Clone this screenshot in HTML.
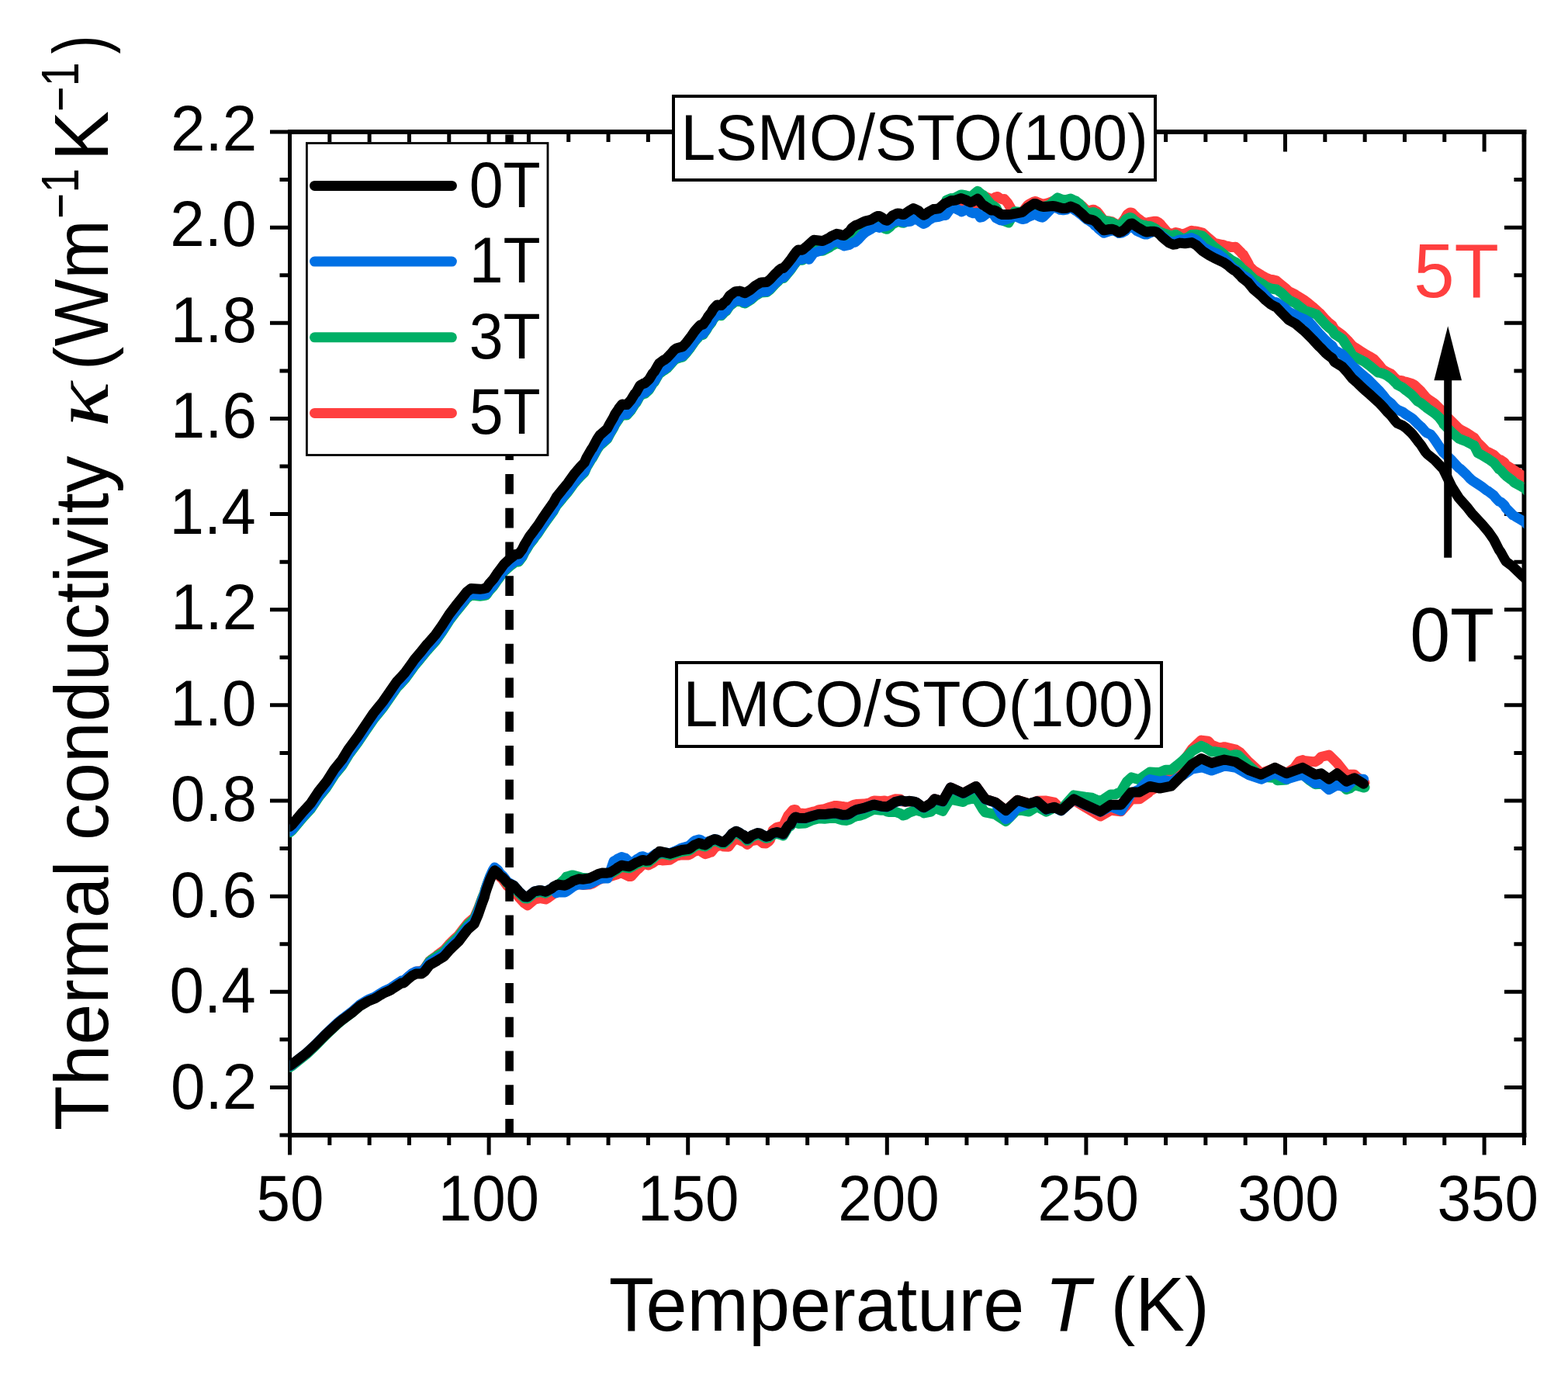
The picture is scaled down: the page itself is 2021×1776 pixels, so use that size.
<!DOCTYPE html>
<html><head><meta charset="utf-8"><title>Thermal conductivity</title>
<style>html,body{margin:0;padding:0;background:#fff;}svg{display:block;}</style>
</head><body>
<svg xmlns="http://www.w3.org/2000/svg" width="2021" height="1776" viewBox="0 0 2021 1776">
<rect width="2021" height="1776" fill="#fff"/>
<defs><clipPath id="pc"><rect x="373.5" y="170.02999999999975" width="1590.9199999999998" height="1292.9700000000003"/></clipPath></defs>
<path d="M373.50,1463.0 v25.5 M373.50,170.02999999999975 v25.5 M424.82,1463.0 v13 M424.82,170.02999999999975 v13 M476.14,1463.0 v13 M476.14,170.02999999999975 v13 M527.46,1463.0 v13 M527.46,170.02999999999975 v13 M578.78,1463.0 v13 M578.78,170.02999999999975 v13 M630.10,1463.0 v25.5 M630.10,170.02999999999975 v25.5 M681.42,1463.0 v13 M681.42,170.02999999999975 v13 M732.74,1463.0 v13 M732.74,170.02999999999975 v13 M784.06,1463.0 v13 M784.06,170.02999999999975 v13 M835.38,1463.0 v13 M835.38,170.02999999999975 v13 M886.70,1463.0 v25.5 M886.70,170.02999999999975 v25.5 M938.02,1463.0 v13 M938.02,170.02999999999975 v13 M989.34,1463.0 v13 M989.34,170.02999999999975 v13 M1040.66,1463.0 v13 M1040.66,170.02999999999975 v13 M1091.98,1463.0 v13 M1091.98,170.02999999999975 v13 M1143.30,1463.0 v25.5 M1143.30,170.02999999999975 v25.5 M1194.62,1463.0 v13 M1194.62,170.02999999999975 v13 M1245.94,1463.0 v13 M1245.94,170.02999999999975 v13 M1297.26,1463.0 v13 M1297.26,170.02999999999975 v13 M1348.58,1463.0 v13 M1348.58,170.02999999999975 v13 M1399.90,1463.0 v25.5 M1399.90,170.02999999999975 v25.5 M1451.22,1463.0 v13 M1451.22,170.02999999999975 v13 M1502.54,1463.0 v13 M1502.54,170.02999999999975 v13 M1553.86,1463.0 v13 M1553.86,170.02999999999975 v13 M1605.18,1463.0 v13 M1605.18,170.02999999999975 v13 M1656.50,1463.0 v25.5 M1656.50,170.02999999999975 v25.5 M1707.82,1463.0 v13 M1707.82,170.02999999999975 v13 M1759.14,1463.0 v13 M1759.14,170.02999999999975 v13 M1810.46,1463.0 v13 M1810.46,170.02999999999975 v13 M1861.78,1463.0 v13 M1861.78,170.02999999999975 v13 M1913.10,1463.0 v25.5 M1913.10,170.02999999999975 v25.5 M1964.42,1463.0 v13 M1964.42,170.02999999999975 v13 M373.5,1463.00 h-13 M1964.4199999999998,1463.00 h-13 M373.5,1401.43 h-25.5 M1964.4199999999998,1401.43 h-25.5 M373.5,1339.86 h-13 M1964.4199999999998,1339.86 h-13 M373.5,1278.29 h-25.5 M1964.4199999999998,1278.29 h-25.5 M373.5,1216.72 h-13 M1964.4199999999998,1216.72 h-13 M373.5,1155.15 h-25.5 M1964.4199999999998,1155.15 h-25.5 M373.5,1093.58 h-13 M1964.4199999999998,1093.58 h-13 M373.5,1032.01 h-25.5 M1964.4199999999998,1032.01 h-25.5 M373.5,970.44 h-13 M1964.4199999999998,970.44 h-13 M373.5,908.87 h-25.5 M1964.4199999999998,908.87 h-25.5 M373.5,847.30 h-13 M1964.4199999999998,847.30 h-13 M373.5,785.73 h-25.5 M1964.4199999999998,785.73 h-25.5 M373.5,724.16 h-13 M1964.4199999999998,724.16 h-13 M373.5,662.59 h-25.5 M1964.4199999999998,662.59 h-25.5 M373.5,601.02 h-13 M1964.4199999999998,601.02 h-13 M373.5,539.45 h-25.5 M1964.4199999999998,539.45 h-25.5 M373.5,477.88 h-13 M1964.4199999999998,477.88 h-13 M373.5,416.31 h-25.5 M1964.4199999999998,416.31 h-25.5 M373.5,354.74 h-13 M1964.4199999999998,354.74 h-13 M373.5,293.17 h-25.5 M1964.4199999999998,293.17 h-25.5 M373.5,231.60 h-13 M1964.4199999999998,231.60 h-13 M373.5,170.03 h-25.5 M1964.4199999999998,170.03 h-25.5" stroke="#000" stroke-width="5.0" fill="none"/>
<path d="M371.0,170.02999999999975 H1967.32 M371.0,1463.0 H1967.32" stroke="#000" stroke-width="5.9" fill="none"/>
<path d="M373.5,167.07999999999976 V1465.95" stroke="#000" stroke-width="5.0" fill="none"/>
<path d="M1964.4199999999998,167.07999999999976 V1465.95" stroke="#000" stroke-width="5.8" fill="none"/>
<g clip-path="url(#pc)" fill="none" stroke-width="13" stroke-linejoin="round" stroke-linecap="round">
<path d="M373.5,1072.0 L376.1,1069.7 L390.3,1052.8 L400.4,1041.9 L410.5,1026.8 L420.7,1014.1 L430.8,998.2 L440.9,985.8 L449.0,972.5 L461.2,956.0 L471.3,940.9 L481.5,926.0 L486.5,919.8 L490.8,914.6 L493.5,911.2 L502.5,898.3 L511.5,885.3 L516.0,880.7 L522.3,873.7 L531.0,861.6 L534.1,857.2 L541.3,848.8 L550.3,837.6 L552.1,835.8 L561.1,825.7 L570.1,812.9 L579.1,798.9 L588.1,787.1 L592.6,781.6 L599.6,772.9 L601.5,770.4 L607.2,766.1 L618.7,767.1 L622.5,766.7 L626.4,765.9 L628.3,763.6 L630.2,760.8 L635.9,754.4 L641.7,745.8 L643.6,743.4 L649.3,735.7 L650.0,735.0 L657.0,728.7 L663.7,723.5 L664.6,723.0 L668.5,722.6 L672.3,717.7 L673.3,716.2 L676.1,710.4 L678.0,707.7 L681.9,701.0 L683.8,698.4 L687.6,693.6 L689.5,690.8 L693.3,685.9 L697.2,680.0 L699.1,677.1 L704.8,669.0 L713.4,657.2 L714.4,655.2 L717.3,650.1 L724.0,642.2 L724.9,641.0 L731.6,633.2 L733.5,630.6 L740.0,621.8 L743.1,618.2 L748.1,612.7 L753.2,607.7 L755.2,603.1 L756.2,600.9 L762.3,590.6 L763.3,589.6 L769.4,578.5 L770.4,576.9 L773.4,572.6 L774.5,572.0 L782.6,564.9 L785.6,559.2 L790.7,550.5 L792.7,546.2 L796.7,540.4 L797.8,538.5 L801.8,533.4 L806.9,534.0 L807.9,534.1 L813.0,528.2 L818.0,520.2 L820.0,518.1 L824.1,510.6 L825.1,509.1 L829.2,506.7 L831.2,506.4 L836.3,501.7 L837.3,500.3 L841.3,493.5 L843.4,491.4 L848.4,482.5 L849.4,481.0 L855.5,476.4 L856.5,476.0 L859.6,473.8 L861.6,471.6 L864.6,468.4 L868.7,463.6 L871.7,461.4 L877.8,459.6 L879.8,459.2 L883.9,454.7 L890.0,446.9 L895.4,439.1 L897.2,436.9 L900.8,433.0 L902.6,431.2 L906.2,430.4 L908.0,427.6 L910.7,423.9 L912.5,420.6 L917.0,414.8 L918.8,411.2 L920.6,409.0 L924.2,405.4 L926.0,405.4 L929.6,405.8 L931.4,404.0 L933.2,401.9 L935.9,400.0 L940.5,393.2 L947.7,387.8 L953.1,387.3 L955.8,388.0 L958.5,389.5 L960.3,389.9 L967.5,385.5 L972.9,380.8 L973.8,380.1 L980.1,376.4 L981.0,376.0 L988.2,375.6 L989.1,375.0 L992.7,372.1 L998.1,366.1 L1002.6,361.8 L1003.5,360.8 L1007.1,357.9 L1009.8,357.6 L1014.3,352.5 L1019.7,345.8 L1023.3,340.6 L1026.9,335.8 L1028.7,334.1 L1034.1,334.2 L1035.0,333.7 L1039.5,329.7 L1040.0,329.4 L1048.9,321.3 L1059.6,322.3 L1060.5,322.2 L1068.5,318.1 L1071.2,316.0 L1078.3,312.5 L1082.7,313.3 L1084.5,314.0 L1088.1,314.5 L1095.2,308.7 L1097.9,304.8 L1102.3,301.3 L1106.8,299.5 L1111.2,297.0 L1115.7,295.0 L1120.2,293.9 L1122.8,293.2 L1129.1,289.3 L1130.8,288.4 L1133.5,288.3 L1136.2,289.6 L1140.6,293.1 L1143.3,293.7 L1146.9,291.0 L1150.4,287.2 L1156.7,284.0 L1160.2,284.3 L1162.9,285.3 L1164.7,285.5 L1170.9,281.1 L1177.2,277.1 L1178.0,277.2 L1184.3,280.4 L1186.1,282.4 L1190.5,285.5 L1193.2,284.2 L1196.7,281.2 L1203.0,277.6 L1204.8,277.5 L1210.0,276.9 L1217.1,270.6 L1218.9,270.1 L1226.0,266.4 L1227.8,266.5 L1231.4,266.1 L1238.5,263.6 L1239.4,263.7 L1245.6,266.1 L1247.4,267.2 L1251.0,268.7 L1253.6,268.0 L1259.9,264.2 L1260.8,264.9 L1262.0,256.0 L1266.1,254.4 L1267.9,252.6 L1272.3,254.5 L1274.1,255.3 L1277.7,256.9 L1279.5,256.6 L1281.2,255.3 L1283.9,253.8 L1285.7,253.5 L1289.3,255.9 L1291.9,256.7 L1294.6,256.6 L1299.1,262.0 L1303.5,269.6 L1305.0,272.0 L1308.0,272.9 L1315.0,275.0 L1316.9,273.8 L1318.7,272.0 L1324.0,265.1 L1325.0,264.0 L1325.8,263.6 L1332.9,259.8 L1334.7,259.5 L1339.1,261.4 L1341.8,262.4 L1345.4,262.8 L1348.9,262.2 L1350.0,262.0 L1357.0,259.3 L1359.6,258.6 L1365.0,258.4 L1366.7,258.5 L1370.3,258.2 L1372.1,257.5 L1374.8,258.0 L1376.5,257.7 L1380.0,257.3 L1384.0,260.0 L1385.3,260.1 L1387.1,260.5 L1388.9,261.6 L1391.6,263.0 L1395.1,265.8 L1397.8,268.5 L1401.4,271.7 L1402.3,271.9 L1408.5,270.2 L1410.3,270.5 L1413.8,272.6 L1415.6,274.6 L1422.7,284.2 L1423.6,284.4 L1429.9,285.0 L1433.4,285.9 L1437.0,288.0 L1438.8,289.1 L1442.3,290.6 L1445.9,287.2 L1450.4,281.1 L1451.2,279.4 L1453.0,276.4 L1456.6,273.9 L1458.4,274.2 L1459.3,274.5 L1461.9,277.3 L1465.5,280.6 L1469.1,283.3 L1471.7,285.3 L1474.4,286.6 L1478.0,287.3 L1482.4,286.1 L1486.9,285.3 L1490.4,285.3 L1494.0,287.3 L1495.8,288.9 L1497.6,291.3 L1501.1,295.3 L1504.7,299.5 L1506.5,300.5 L1511.8,301.1 L1515.4,299.5 L1518.9,300.3 L1520.7,301.0 L1522.5,302.2 L1526.9,301.2 L1527.8,300.9 L1535.9,297.3 L1540.3,298.2 L1541.2,298.0 L1542.1,298.1 L1550.0,300.0 L1558.1,307.3 L1565.2,313.2 L1575.3,315.6 L1576.4,315.6 L1580.4,317.3 L1582.4,317.3 L1586.5,318.4 L1590.5,318.5 L1592.6,318.3 L1598.6,324.3 L1600.7,326.8 L1602.7,328.4 L1606.8,335.7 L1608.8,339.2 L1610.8,343.6 L1615.9,348.7 L1625.0,354.0 L1626.0,354.8 L1631.1,357.7 L1637.2,360.2 L1641.2,360.8 L1645.3,361.9 L1651.3,366.9 L1656.4,371.0 L1659.5,374.0 L1661.5,375.6 L1669.6,379.6 L1671.6,381.1 L1681.8,387.4 L1686.8,391.2 L1691.9,395.4 L1700.0,402.8 L1702.0,404.4 L1708.1,411.4 L1712.2,415.4 L1717.2,419.6 L1720.0,424.5 L1730.0,431.8 L1730.1,431.8 L1736.9,438.6 L1742.5,445.1 L1745.0,447.0 L1748.2,448.9 L1753.8,452.6 L1759.0,456.0 L1759.4,456.3 L1765.1,459.4 L1770.7,462.8 L1771.0,463.0 L1778.6,471.6 L1782.0,476.0 L1783.1,476.6 L1787.6,479.5 L1793.0,482.0 L1793.2,482.2 L1797.7,486.9 L1801.1,489.7 L1807.9,490.9 L1810.0,492.0 L1812.4,492.3 L1819.1,494.2 L1821.4,495.3 L1824.0,497.0 L1828.1,501.1 L1831.5,504.3 L1837.1,511.2 L1838.0,512.0 L1839.4,513.5 L1848.4,519.7 L1849.5,520.5 L1850.0,521.0 L1859.7,530.7 L1860.8,532.6 L1861.0,533.0 L1871.0,543.0 L1871.3,543.4 L1880.3,552.4 L1882.5,553.7 L1889.3,557.2 L1890.4,557.9 L1897.2,562.5 L1899.4,563.7 L1900.0,564.0 L1905.0,571.0 L1907.3,573.1 L1909.5,575.2 L1916.0,582.0 L1918.5,582.7 L1925.3,586.2 L1927.6,588.6 L1928.0,589.0 L1932.1,592.4 L1934.3,592.9 L1938.8,595.9 L1939.0,596.0 L1941.1,599.2 L1947.8,603.4 L1950.0,605.0 L1950.1,605.1 L1961.3,612.6 L1965.0,615.0 L1968.0,618.5 L1970.0,619.0" stroke="#FF3F3F"/>
<path d="M373.5,1073.0 L376.1,1070.7 L390.3,1053.8 L400.4,1042.9 L410.5,1027.8 L420.7,1015.1 L430.8,999.2 L440.9,986.8 L449.0,973.5 L461.2,957.0 L471.3,941.9 L481.5,927.0 L486.5,920.8 L490.8,915.6 L493.5,912.2 L502.5,899.3 L511.5,886.3 L516.0,881.7 L522.3,874.7 L531.0,862.6 L534.1,858.2 L541.3,849.8 L550.3,838.6 L552.1,836.8 L561.1,826.7 L570.1,813.9 L579.1,799.9 L588.1,788.1 L592.6,782.6 L599.6,773.9 L601.5,771.4 L607.2,767.1 L618.7,768.2 L622.5,767.8 L626.4,767.1 L628.3,764.8 L630.2,761.9 L635.9,755.6 L641.7,747.1 L643.6,744.7 L649.3,737.0 L650.0,736.3 L657.0,729.9 L663.7,724.8 L664.6,724.3 L668.5,724.0 L672.3,719.1 L673.3,717.6 L676.1,711.8 L678.0,709.1 L681.9,702.4 L683.8,699.8 L687.6,695.1 L689.5,692.2 L693.3,687.4 L697.2,681.5 L699.1,678.6 L704.8,670.5 L713.4,658.6 L714.4,656.6 L717.3,651.5 L724.0,643.5 L724.9,642.3 L731.6,634.5 L733.5,631.9 L740.0,623.0 L743.1,619.4 L748.1,613.9 L753.2,608.8 L755.2,604.3 L756.2,602.0 L762.3,591.7 L763.3,590.7 L769.4,579.6 L770.4,578.0 L773.4,573.7 L774.5,573.0 L782.6,565.9 L785.6,560.2 L790.7,551.5 L792.7,547.2 L796.7,541.4 L797.8,539.5 L801.8,534.4 L806.9,535.0 L807.9,535.1 L813.0,529.2 L818.0,521.2 L820.0,519.1 L824.1,511.6 L825.1,510.1 L829.2,507.7 L831.2,507.4 L836.3,502.7 L837.3,501.3 L841.3,494.5 L843.4,492.4 L848.4,483.5 L849.4,482.0 L855.5,477.4 L856.5,477.0 L859.6,474.8 L861.6,472.6 L864.6,469.4 L868.7,464.6 L871.7,462.4 L877.8,460.6 L879.8,460.2 L883.9,455.7 L890.0,447.9 L895.4,440.1 L897.2,437.9 L900.8,434.0 L902.6,432.2 L906.2,431.4 L908.0,428.6 L910.7,424.9 L912.5,421.6 L917.0,415.8 L918.8,412.2 L920.6,410.0 L924.2,406.4 L926.0,406.4 L929.6,406.8 L931.4,405.0 L933.2,402.9 L935.9,401.0 L940.5,394.2 L947.7,388.8 L953.1,388.3 L955.8,389.0 L958.5,390.5 L960.3,390.9 L967.5,386.5 L972.9,381.8 L973.8,381.1 L980.1,377.4 L981.0,377.0 L988.2,376.6 L989.1,376.0 L992.7,373.1 L998.1,367.1 L1002.6,362.8 L1003.5,361.8 L1007.1,358.9 L1009.8,358.6 L1014.3,353.5 L1019.7,346.8 L1023.3,341.6 L1026.9,336.8 L1028.7,335.1 L1034.1,335.2 L1035.0,334.7 L1039.5,330.7 L1040.0,330.4 L1048.9,322.3 L1059.6,323.3 L1060.5,323.3 L1068.5,319.2 L1071.2,317.2 L1078.3,313.7 L1082.7,314.5 L1084.5,315.3 L1088.1,315.7 L1095.2,310.0 L1097.9,306.1 L1102.3,302.6 L1106.8,300.8 L1111.2,298.4 L1115.7,296.5 L1120.2,295.4 L1122.8,294.7 L1129.1,290.8 L1130.8,290.0 L1133.5,289.9 L1136.2,291.2 L1140.6,294.7 L1143.3,295.3 L1146.9,292.6 L1150.4,288.9 L1156.7,285.7 L1160.2,286.1 L1162.9,287.1 L1164.7,287.3 L1170.9,282.9 L1177.2,278.9 L1178.0,279.1 L1184.3,282.3 L1186.1,284.3 L1190.5,287.4 L1193.2,286.2 L1196.7,283.1 L1203.0,279.6 L1204.8,279.5 L1210.0,278.9 L1217.1,272.6 L1218.9,272.1 L1220.0,258.0 L1226.0,255.6 L1227.8,255.8 L1231.4,254.8 L1238.5,250.9 L1239.4,250.9 L1245.0,252.0 L1245.6,252.1 L1247.4,252.7 L1251.0,253.2 L1253.6,251.9 L1259.9,246.4 L1260.8,246.8 L1261.7,247.7 L1266.1,251.1 L1267.0,251.3 L1272.3,257.6 L1274.1,259.7 L1276.0,262.0 L1277.7,263.9 L1281.2,265.8 L1283.9,267.9 L1284.0,268.0 L1289.3,279.2 L1291.9,283.9 L1292.0,284.0 L1299.1,286.7 L1300.0,287.0 L1303.5,281.0 L1308.0,272.7 L1316.9,273.5 L1318.7,273.0 L1324.0,270.0 L1325.8,269.4 L1330.0,268.0 L1332.9,265.5 L1334.7,264.9 L1339.1,266.1 L1341.8,266.7 L1345.4,266.5 L1348.9,265.4 L1354.0,263.8 L1357.0,260.3 L1359.6,257.7 L1363.0,254.9 L1365.0,255.6 L1366.7,256.4 L1370.0,257.5 L1370.3,257.6 L1374.8,257.6 L1376.5,257.0 L1380.0,256.0 L1384.0,258.0 L1385.3,258.5 L1387.1,259.3 L1388.9,260.9 L1391.6,263.0 L1395.1,267.3 L1397.8,271.3 L1399.6,273.7 L1401.4,274.7 L1408.5,273.6 L1409.4,273.7 L1410.3,273.8 L1413.8,275.5 L1414.7,276.4 L1415.6,277.6 L1422.7,284.4 L1429.9,285.7 L1433.4,286.8 L1435.2,288.0 L1437.0,288.5 L1438.8,289.7 L1442.3,291.5 L1445.9,289.0 L1450.4,284.1 L1451.2,282.6 L1456.6,280.2 L1458.4,280.9 L1459.3,281.4 L1460.2,282.6 L1465.5,286.7 L1469.1,288.9 L1474.4,290.5 L1476.2,290.6 L1478.0,291.5 L1482.4,291.5 L1486.9,293.4 L1490.4,295.6 L1492.2,297.8 L1494.0,298.2 L1497.6,300.0 L1501.1,301.1 L1504.7,302.2 L1506.5,303.2 L1511.8,303.8 L1515.4,302.2 L1518.9,304.3 L1520.7,305.7 L1522.5,307.6 L1526.9,307.2 L1527.8,307.0 L1531.4,305.8 L1535.9,302.6 L1541.2,302.2 L1542.1,302.2 L1550.0,304.1 L1558.1,312.0 L1565.2,318.3 L1575.3,326.0 L1576.4,326.6 L1580.4,330.4 L1582.4,331.5 L1586.5,334.8 L1590.5,337.1 L1592.6,338.0 L1595.6,340.6 L1598.6,343.6 L1600.7,346.0 L1606.8,350.9 L1608.8,352.4 L1610.8,354.8 L1615.9,359.6 L1625.0,364.6 L1631.1,368.9 L1637.2,371.6 L1641.2,372.5 L1645.3,373.0 L1651.3,377.1 L1659.5,385.0 L1661.5,386.7 L1666.5,389.2 L1669.6,390.8 L1671.6,392.3 L1681.8,400.4 L1691.9,403.5 L1697.0,405.4 L1700.0,408.8 L1702.0,410.9 L1708.1,417.7 L1712.2,421.6 L1717.2,425.5 L1720.0,430.3 L1730.0,436.8 L1730.1,436.9 L1736.9,447.4 L1742.5,457.0 L1744.0,459.0 L1748.2,460.9 L1753.8,463.8 L1759.0,466.5 L1759.4,466.8 L1765.1,471.1 L1770.7,475.7 L1776.0,480.0 L1778.6,480.4 L1783.1,481.8 L1787.0,483.5 L1787.6,484.0 L1793.2,488.0 L1797.7,492.5 L1799.0,493.5 L1801.1,496.0 L1807.9,499.5 L1812.0,503.0 L1812.4,503.2 L1819.1,508.4 L1821.4,510.6 L1827.0,517.0 L1828.1,517.6 L1831.5,519.4 L1837.1,524.1 L1838.0,524.5 L1839.4,526.0 L1848.4,532.2 L1849.5,533.0 L1855.0,538.0 L1859.7,544.3 L1860.8,546.5 L1861.0,547.0 L1871.0,557.0 L1871.3,557.4 L1880.3,565.2 L1882.5,566.1 L1889.3,568.7 L1890.4,569.2 L1897.2,572.9 L1899.4,573.8 L1900.0,574.0 L1905.0,584.0 L1907.3,585.1 L1909.5,586.2 L1918.5,591.6 L1919.0,592.0 L1925.3,596.3 L1927.6,599.0 L1930.0,602.0 L1932.1,604.7 L1934.3,606.0 L1938.8,611.0 L1941.0,613.0 L1941.1,613.2 L1947.8,618.2 L1950.1,620.2 L1952.0,622.0 L1961.3,627.1 L1965.0,629.0 L1968.0,632.5 L1970.0,633.0" stroke="#00AF66"/>
<path d="M373.5,1071.5 L376.1,1069.2 L390.3,1052.3 L400.4,1041.4 L410.5,1026.3 L420.7,1013.6 L430.8,997.7 L440.9,985.3 L449.0,972.0 L461.2,955.5 L471.3,940.4 L481.5,925.5 L486.5,919.3 L490.8,914.1 L493.5,910.7 L502.5,897.8 L511.5,884.8 L516.0,880.2 L522.3,873.2 L531.0,861.1 L534.1,856.7 L541.3,848.3 L550.3,837.1 L552.1,835.3 L561.1,825.2 L570.1,812.4 L579.1,798.4 L588.1,786.6 L592.6,781.1 L599.6,772.4 L601.5,769.9 L607.2,765.6 L618.7,766.7 L622.5,766.3 L626.4,765.6 L628.3,763.3 L630.2,760.4 L635.9,754.1 L641.7,745.6 L643.6,743.2 L649.3,735.5 L650.0,734.8 L657.0,728.4 L663.7,723.3 L664.6,722.8 L668.5,722.5 L672.3,717.6 L673.3,716.1 L676.1,710.3 L678.0,707.6 L681.9,700.9 L683.8,698.3 L687.6,693.6 L689.5,690.7 L693.3,685.9 L697.2,680.0 L699.1,677.1 L704.8,669.0 L713.4,657.1 L714.4,655.1 L717.3,650.0 L724.0,642.0 L724.9,640.8 L731.6,633.0 L733.5,630.4 L740.0,621.5 L743.1,617.9 L748.1,612.4 L753.2,607.3 L755.2,602.8 L756.2,600.5 L762.3,590.2 L763.3,589.2 L769.4,578.1 L770.4,576.5 L773.4,572.2 L774.5,571.5 L782.6,564.5 L785.6,558.7 L790.7,550.0 L792.7,545.7 L796.7,539.9 L797.8,538.0 L801.8,532.9 L806.9,533.6 L807.9,533.6 L813.0,527.8 L818.0,519.7 L820.0,517.7 L824.1,510.2 L825.1,508.7 L829.2,506.3 L831.2,506.0 L836.3,501.3 L837.3,499.9 L841.3,493.1 L843.4,491.0 L848.4,482.2 L849.4,480.6 L855.5,476.1 L856.5,475.7 L859.6,473.4 L861.6,471.2 L864.6,468.1 L868.7,463.3 L871.7,461.1 L877.8,459.3 L879.8,458.9 L883.9,454.4 L890.0,446.6 L895.4,438.8 L897.2,436.6 L900.8,432.8 L902.6,430.9 L906.2,430.1 L908.0,427.4 L910.7,423.7 L912.5,420.3 L917.0,414.5 L918.8,411.0 L920.6,408.8 L924.2,405.1 L926.0,405.1 L929.6,405.6 L931.4,403.8 L933.2,401.6 L935.9,399.8 L940.5,393.0 L947.7,387.6 L953.1,387.1 L955.8,387.8 L958.5,389.3 L960.3,389.8 L967.5,385.4 L972.9,380.7 L973.8,380.0 L980.1,376.3 L981.0,375.9 L988.2,375.5 L989.1,374.9 L992.7,372.0 L998.1,366.0 L1002.6,361.8 L1003.5,360.7 L1007.1,357.9 L1009.8,357.5 L1014.3,352.5 L1019.7,345.7 L1023.3,340.5 L1026.9,335.8 L1028.7,334.0 L1034.1,334.2 L1035.0,333.6 L1039.5,329.7 L1040.0,329.4 L1042.7,334.3 L1048.9,325.9 L1059.6,322.4 L1060.5,321.9 L1068.5,316.6 L1071.2,314.1 L1075.6,311.2 L1078.3,310.9 L1082.7,313.3 L1084.5,314.7 L1086.3,315.6 L1088.1,316.9 L1095.2,315.3 L1097.9,313.0 L1102.3,312.1 L1106.8,307.9 L1111.2,303.1 L1113.9,300.5 L1115.7,299.1 L1120.2,296.6 L1122.8,295.1 L1124.6,293.4 L1129.1,292.5 L1130.8,292.4 L1133.5,293.4 L1136.2,292.3 L1140.6,291.9 L1142.4,290.7 L1143.3,291.1 L1146.9,289.1 L1150.4,286.1 L1155.8,284.5 L1156.7,284.1 L1160.2,284.7 L1162.9,285.9 L1164.7,286.2 L1170.9,285.5 L1173.6,285.3 L1177.2,282.2 L1178.0,282.3 L1184.3,284.1 L1186.1,285.8 L1187.0,286.2 L1190.5,288.5 L1193.2,287.2 L1196.7,284.0 L1200.3,281.8 L1203.0,280.3 L1204.8,280.1 L1210.0,279.3 L1217.1,277.0 L1218.9,277.5 L1226.0,267.5 L1227.8,265.9 L1231.4,268.6 L1238.5,272.1 L1239.4,273.0 L1245.6,270.0 L1247.4,269.5 L1251.0,273.5 L1253.6,274.7 L1254.5,274.8 L1259.9,274.4 L1260.8,275.5 L1263.4,280.2 L1266.1,279.7 L1272.3,274.8 L1274.1,274.2 L1277.7,273.0 L1281.2,277.1 L1283.9,281.0 L1289.3,283.8 L1291.9,284.2 L1294.6,283.7 L1299.1,282.2 L1303.5,280.6 L1308.0,278.4 L1316.9,282.3 L1318.7,282.5 L1321.3,281.9 L1324.0,280.2 L1325.8,279.4 L1332.9,276.4 L1334.7,276.6 L1339.1,278.7 L1341.8,279.9 L1343.6,280.2 L1345.4,278.8 L1348.9,275.2 L1357.0,266.8 L1359.6,267.3 L1365.0,269.5 L1366.7,270.4 L1370.3,270.8 L1374.8,270.0 L1376.5,269.1 L1379.2,267.7 L1380.0,267.5 L1385.3,270.6 L1386.3,271.3 L1387.1,271.6 L1388.9,273.1 L1395.1,277.7 L1397.8,280.3 L1401.4,283.3 L1402.3,283.4 L1408.5,287.7 L1410.3,289.3 L1411.2,290.5 L1413.8,292.2 L1415.6,294.4 L1422.7,300.3 L1429.9,297.8 L1433.4,297.1 L1437.0,297.6 L1438.8,298.6 L1440.0,299.0 L1442.3,300.6 L1445.9,300.1 L1450.4,297.7 L1451.2,296.7 L1456.6,291.9 L1458.4,291.9 L1459.3,292.0 L1465.5,297.6 L1469.1,299.2 L1474.4,301.7 L1476.2,302.1 L1478.0,302.1 L1482.4,300.1 L1486.9,298.5 L1490.4,298.6 L1494.0,300.8 L1497.6,304.2 L1501.1,306.6 L1506.5,310.6 L1511.8,312.3 L1515.4,311.3 L1518.9,309.6 L1520.7,308.9 L1526.9,308.7 L1527.8,308.5 L1531.4,307.6 L1535.9,306.6 L1540.3,308.5 L1541.2,309.0 L1542.1,309.7 L1549.2,316.5 L1550.0,318.3 L1558.1,322.5 L1565.2,325.6 L1570.3,327.4 L1575.3,331.2 L1576.4,331.9 L1582.4,337.6 L1586.5,342.7 L1590.5,346.6 L1592.6,347.3 L1598.6,352.0 L1600.7,354.1 L1606.8,357.7 L1608.8,358.8 L1610.8,360.8 L1615.9,366.9 L1625.0,374.0 L1626.0,375.0 L1631.1,380.7 L1637.2,386.4 L1641.2,389.2 L1645.3,389.7 L1651.3,393.9 L1656.4,397.3 L1659.5,400.3 L1661.5,402.0 L1669.6,406.0 L1671.6,407.5 L1681.8,411.8 L1686.8,414.6 L1691.9,420.2 L1700.0,429.8 L1702.0,431.7 L1708.1,438.2 L1712.2,441.9 L1717.2,446.1 L1720.0,451.0 L1730.1,456.9 L1736.9,464.3 L1742.5,471.2 L1748.0,476.0 L1748.2,476.2 L1753.8,481.1 L1759.4,486.0 L1762.0,488.0 L1765.1,491.0 L1770.7,496.6 L1778.6,504.6 L1783.1,510.0 L1787.0,515.0 L1787.6,515.6 L1793.2,520.1 L1797.7,525.1 L1801.0,528.0 L1801.1,528.1 L1807.9,530.9 L1812.0,534.0 L1812.4,534.2 L1819.1,538.4 L1821.4,540.3 L1828.0,547.0 L1828.1,547.1 L1831.5,549.9 L1837.1,556.3 L1839.4,558.1 L1844.0,560.0 L1848.4,565.6 L1849.5,567.1 L1859.7,582.3 L1860.0,583.0 L1860.8,583.5 L1871.0,593.0 L1871.3,593.5 L1880.3,603.1 L1882.5,604.5 L1889.3,610.9 L1890.4,612.0 L1894.0,616.0 L1897.2,618.8 L1899.4,620.3 L1905.0,624.0 L1907.3,625.5 L1909.5,626.9 L1916.0,632.0 L1918.5,633.3 L1925.3,638.5 L1927.6,641.5 L1928.0,642.0 L1932.1,646.2 L1934.3,647.0 L1938.8,650.9 L1939.0,651.0 L1941.1,654.9 L1947.8,661.6 L1950.0,664.0 L1950.1,664.0 L1961.3,670.5 L1965.0,672.5 L1968.0,675.7 L1970.0,676.0" stroke="#0070E4"/>
<path d="M373.5,1065.5 L376.1,1063.2 L390.3,1046.3 L400.4,1035.3 L410.5,1020.1 L420.7,1007.4 L430.8,991.5 L440.9,979.0 L449.0,965.7 L461.2,949.1 L471.3,934.0 L481.5,919.0 L486.5,912.8 L490.8,907.6 L493.5,904.2 L502.5,891.2 L511.5,878.2 L516.0,873.6 L522.3,866.6 L531.0,854.4 L534.1,850.0 L541.3,841.6 L550.3,830.3 L552.1,828.5 L561.1,818.3 L570.1,805.5 L579.1,791.5 L588.1,779.7 L592.6,774.2 L599.6,765.4 L601.5,762.9 L607.2,758.5 L618.7,759.3 L622.5,758.9 L626.4,758.0 L628.3,755.7 L630.2,752.8 L635.9,746.3 L641.7,737.7 L643.6,735.3 L649.3,727.5 L650.0,726.8 L657.0,720.3 L663.7,715.1 L664.6,714.5 L668.5,714.1 L672.3,709.1 L673.3,707.6 L676.1,701.8 L678.0,699.0 L681.9,692.3 L683.8,689.6 L687.6,684.8 L689.5,681.9 L693.3,677.0 L697.2,671.0 L699.1,668.1 L704.8,659.8 L713.4,647.6 L714.4,645.6 L717.3,640.3 L724.0,632.1 L724.9,630.9 L731.6,622.8 L733.5,620.2 L740.0,611.0 L743.1,607.3 L748.1,601.6 L753.2,596.3 L755.2,591.7 L756.2,589.4 L762.3,578.9 L763.3,577.8 L769.4,566.5 L770.4,564.9 L773.4,560.4 L774.5,559.7 L782.6,552.5 L785.6,546.7 L790.7,538.0 L792.7,533.7 L796.7,527.9 L797.8,526.0 L801.8,520.9 L806.9,521.6 L807.9,521.6 L813.0,515.8 L818.0,507.7 L820.0,505.7 L824.1,498.2 L825.1,496.7 L829.2,494.3 L831.2,494.0 L836.3,489.3 L837.3,487.9 L841.3,481.1 L843.4,479.0 L848.4,470.2 L849.4,468.6 L855.5,464.1 L856.5,463.7 L859.6,461.4 L861.6,459.2 L864.6,456.1 L868.7,451.3 L871.7,449.1 L877.8,447.3 L879.8,446.9 L883.9,442.4 L890.0,434.6 L895.4,426.8 L897.2,424.6 L900.8,420.8 L902.6,418.9 L906.2,418.1 L908.0,415.4 L910.7,411.7 L912.5,408.3 L917.0,402.5 L918.8,399.0 L920.6,396.8 L924.2,393.1 L926.0,393.1 L929.6,393.6 L931.4,391.8 L933.2,389.6 L935.9,387.8 L940.5,381.0 L947.7,375.6 L953.1,375.1 L955.8,375.8 L958.5,377.3 L960.3,377.8 L967.5,373.4 L972.9,368.7 L973.8,368.0 L980.1,364.3 L981.0,363.9 L988.2,363.5 L989.1,362.9 L992.7,360.0 L998.1,354.0 L1002.6,349.8 L1003.5,348.7 L1007.1,345.9 L1009.8,345.5 L1014.3,340.5 L1019.7,333.7 L1023.3,328.5 L1026.9,323.8 L1028.7,322.0 L1034.1,322.2 L1035.0,321.6 L1039.5,317.7 L1040.0,317.4 L1048.9,309.3 L1059.6,310.5 L1060.5,310.5 L1068.5,306.6 L1071.2,304.6 L1078.3,301.3 L1082.7,302.2 L1084.5,303.0 L1088.1,303.5 L1095.2,297.9 L1097.9,294.0 L1102.3,290.7 L1106.8,289.0 L1111.2,286.7 L1115.7,284.8 L1120.2,283.8 L1122.8,283.2 L1129.1,279.4 L1130.8,278.6 L1133.5,278.5 L1136.2,279.9 L1140.6,283.5 L1143.3,284.2 L1146.9,281.5 L1150.4,277.9 L1156.7,274.9 L1160.2,275.3 L1162.9,276.3 L1164.7,276.6 L1170.9,272.4 L1177.2,268.5 L1178.0,268.7 L1184.3,271.9 L1186.1,274.0 L1190.5,277.2 L1193.2,276.0 L1196.7,273.1 L1203.0,269.6 L1204.8,269.5 L1210.0,268.9 L1217.1,262.6 L1218.9,262.1 L1226.0,258.4 L1227.8,258.5 L1231.4,258.1 L1238.5,255.6 L1239.4,255.7 L1245.6,258.1 L1247.4,259.2 L1251.0,260.7 L1253.6,260.0 L1259.9,256.2 L1260.8,256.9 L1266.1,263.5 L1272.3,267.4 L1274.1,268.6 L1277.7,270.9 L1281.2,271.1 L1283.9,271.9 L1289.3,275.6 L1291.9,276.5 L1299.1,276.4 L1303.5,276.2 L1308.0,275.4 L1316.9,273.7 L1318.7,272.6 L1324.0,268.1 L1325.8,267.0 L1332.9,262.5 L1334.7,262.4 L1339.1,264.6 L1341.8,265.9 L1345.4,266.5 L1348.9,266.2 L1357.0,265.6 L1359.6,265.7 L1365.0,267.2 L1366.7,267.8 L1370.3,268.6 L1374.8,268.2 L1376.5,267.5 L1380.0,266.1 L1385.3,268.2 L1387.1,269.1 L1388.9,270.8 L1395.1,275.9 L1397.8,278.7 L1401.4,282.0 L1408.5,283.6 L1410.3,284.4 L1413.8,287.3 L1415.6,289.8 L1422.7,296.8 L1429.9,295.5 L1433.4,295.3 L1437.0,296.4 L1438.8,297.6 L1442.3,299.5 L1445.9,298.3 L1450.4,295.2 L1451.2,294.0 L1456.6,288.4 L1458.4,288.0 L1459.3,288.0 L1465.5,292.5 L1469.1,294.6 L1474.4,297.8 L1478.0,299.0 L1482.4,298.3 L1486.9,298.2 L1490.4,298.8 L1494.0,301.4 L1497.6,305.2 L1501.1,308.2 L1506.5,312.8 L1511.8,315.2 L1515.4,314.8 L1518.9,313.5 L1520.7,313.1 L1526.9,313.7 L1527.8,313.7 L1535.9,312.6 L1541.2,315.4 L1542.1,316.0 L1550.0,323.5 L1558.1,328.7 L1565.2,332.6 L1575.3,337.4 L1576.4,337.8 L1582.4,341.7 L1586.5,345.5 L1590.5,348.3 L1592.6,349.4 L1598.6,355.4 L1600.7,357.9 L1606.8,362.8 L1608.8,364.3 L1615.9,373.1 L1625.0,380.7 L1631.1,386.8 L1637.2,391.8 L1641.2,394.1 L1645.3,396.1 L1651.3,402.5 L1659.5,410.8 L1661.5,412.6 L1669.6,417.1 L1671.6,418.7 L1681.8,427.4 L1691.9,437.5 L1700.0,446.2 L1702.0,448.1 L1708.1,454.5 L1712.2,458.1 L1717.2,461.8 L1720.0,466.4 L1730.1,472.6 L1736.9,480.2 L1742.5,487.3 L1748.2,492.4 L1753.8,497.7 L1759.4,503.0 L1765.1,507.9 L1770.7,513.0 L1778.6,520.2 L1783.1,525.0 L1787.6,530.4 L1793.2,536.0 L1797.7,541.8 L1801.1,545.5 L1807.9,548.4 L1812.4,551.7 L1819.1,558.0 L1821.4,560.6 L1828.1,569.3 L1831.5,573.5 L1837.1,582.2 L1839.4,584.9 L1848.4,592.3 L1849.5,593.2 L1859.7,603.9 L1860.8,605.8 L1871.3,627.5 L1880.3,641.8 L1882.5,644.3 L1889.3,651.9 L1890.4,653.1 L1897.2,661.8 L1899.4,664.2 L1907.3,672.6 L1909.5,674.9 L1918.5,685.5 L1925.3,695.2 L1927.6,699.7 L1932.1,708.6 L1934.3,711.6 L1938.8,719.8 L1941.1,723.6 L1947.8,728.6 L1950.1,730.5 L1961.3,741.2 L1968.0,747.5" stroke="#000"/>
<path d="M373.5,1375.0 L375.7,1373.6 L384.4,1366.6 L393.9,1359.1 L394.9,1358.2 L406.4,1347.4 L415.9,1337.6 L417.8,1335.6 L423.6,1329.9 L429.3,1324.6 L435.1,1319.1 L441.8,1313.5 L444.6,1311.4 L454.2,1304.0 L463.8,1295.6 L473.3,1289.8 L475.3,1288.8 L482.9,1285.5 L484.8,1284.4 L490.6,1280.7 L494.4,1278.3 L502.1,1274.7 L504.0,1273.7 L511.6,1268.5 L517.4,1264.7 L520.0,1264.4 L521.2,1263.8 L526.1,1259.1 L530.1,1255.8 L531.2,1254.8 L536.2,1252.2 L543.3,1251.5 L547.4,1247.8 L553.5,1238.8 L555.5,1237.1 L562.6,1232.0 L563.6,1231.0 L570.7,1225.7 L572.7,1224.2 L578.8,1217.2 L584.9,1211.1 L591.0,1205.5 L597.0,1197.5 L603.1,1189.7 L606.2,1187.1 L611.2,1182.8 L616.3,1171.5 L621.4,1158.1 L624.4,1151.1 L625.4,1147.2 L627.5,1141.2 L631.5,1131.2 L635.6,1123.4 L637.6,1121.0 L641.6,1125.4 L644.7,1130.3 L647.7,1133.2 L650.8,1137.3 L653.8,1141.7 L661.9,1147.3 L668.0,1155.3 L669.0,1156.6 L676.1,1164.2 L680.0,1166.8 L688.9,1159.3 L696.0,1157.6 L697.8,1157.8 L703.2,1159.0 L706.7,1157.0 L711.2,1153.8 L713.8,1151.0 L719.2,1147.4 L724.5,1147.3 L728.1,1147.2 L730.8,1145.7 L733.4,1143.7 L737.0,1142.0 L738.8,1140.9 L745.9,1139.3 L751.3,1140.4 L759.3,1140.1 L760.2,1139.9 L764.6,1138.3 L767.3,1136.6 L770.8,1134.3 L776.2,1132.0 L782.4,1131.1 L786.9,1129.4 L794.9,1127.1 L795.8,1126.4 L801.1,1124.9 L804.7,1126.7 L810.9,1129.6 L813.6,1129.4 L820.7,1121.4 L822.5,1120.1 L827.8,1114.8 L829.6,1113.9 L831.4,1113.4 L833.2,1114.3 L835.9,1115.0 L840.3,1112.8 L846.5,1108.7 L849.2,1108.6 L850.0,1107.1 L853.7,1108.9 L863.4,1108.2 L872.0,1103.0 L876.7,1102.1 L878.5,1101.8 L887.4,1101.9 L890.1,1100.6 L894.5,1097.6 L896.3,1097.1 L900.8,1095.7 L903.4,1096.5 L905.2,1098.3 L908.8,1100.7 L912.3,1099.8 L915.0,1098.3 L916.8,1098.3 L921.2,1092.6 L923.9,1090.9 L930.2,1088.5 L932.8,1091.1 L939.1,1091.2 L943.5,1085.1 L948.9,1081.2 L952.4,1082.3 L956.9,1084.4 L958.7,1084.5 L963.1,1088.3 L964.0,1087.7 L965.8,1085.8 L969.3,1083.7 L976.5,1082.4 L979.1,1083.3 L983.6,1086.7 L987.2,1086.9 L990.7,1084.4 L992.5,1082.3 L996.1,1070.3 L1001.4,1066.3 L1006.8,1065.0 L1009.4,1064.7 L1015.7,1051.3 L1019.2,1047.2 L1022.0,1043.8 L1024.6,1043.4 L1025.5,1043.8 L1028.1,1047.2 L1028.9,1047.6 L1037.8,1048.7 L1046.7,1046.5 L1051.2,1045.7 L1055.6,1043.6 L1062.7,1042.6 L1069.0,1040.5 L1075.2,1038.6 L1077.9,1038.4 L1084.1,1039.3 L1085.9,1039.5 L1091.3,1040.5 L1094.8,1039.9 L1100.2,1037.4 L1103.7,1036.6 L1113.5,1036.1 L1120.6,1035.0 L1125.1,1032.5 L1126.9,1032.0 L1135.8,1032.5 L1140.2,1031.9 L1142.9,1032.8 L1146.5,1032.4 L1153.6,1029.8 L1160.0,1030.0 L1160.7,1032.8 L1162.5,1032.8 L1167.0,1033.7 L1171.4,1033.0 L1178.5,1033.7 L1181.2,1034.5 L1189.2,1040.4 L1191.0,1040.9 L1200.0,1035.2 L1204.6,1029.8 L1215.0,1032.7 L1225.2,1014.9 L1241.6,1022.3 L1257.9,1013.4 L1269.8,1029.8 L1283.1,1034.2 L1296.5,1044.6 L1311.3,1031.2 L1326.2,1035.7 L1330.0,1040.0 L1336.6,1032.2 L1348.4,1032.0 L1358.8,1034.2 L1367.7,1042.9 L1370.0,1042.0 L1384.1,1031.2 L1398.9,1040.5 L1418.2,1052.0 L1431.6,1044.4 L1444.9,1045.7 L1450.0,1040.0 L1458.3,1029.9 L1468.7,1029.8 L1480.0,1022.0 L1482.0,1019.4 L1494.8,1012.7 L1502.3,1005.7 L1509.7,1001.9 L1524.5,982.4 L1536.4,965.2 L1548.3,954.1 L1557.2,955.2 L1561.6,960.0 L1572.0,964.1 L1578.0,962.7 L1592.8,966.1 L1598.7,970.0 L1609.1,981.6 L1612.0,984.0 L1625.0,996.0 L1625.5,996.3 L1643.0,990.0 L1643.3,989.8 L1658.0,996.5 L1658.1,996.5 L1668.0,990.0 L1674.5,981.0 L1678.9,979.6 L1680.4,980.5 L1695.2,981.9 L1699.7,979.0 L1702.7,975.5 L1713.0,973.0 L1723.4,983.4 L1735.3,998.3 L1745.7,998.2 L1747.2,999.8 L1757.6,1008.4 L1759.0,1008.7" stroke="#FF3F3F"/>
<path d="M373.5,1375.5 L375.7,1374.1 L384.4,1367.2 L393.9,1359.7 L394.9,1358.8 L406.4,1348.0 L415.9,1338.2 L417.8,1336.2 L423.6,1330.6 L429.3,1325.2 L435.1,1319.8 L441.8,1314.2 L444.6,1312.2 L454.2,1304.8 L463.8,1296.4 L473.3,1290.6 L475.3,1289.6 L482.9,1286.3 L484.8,1285.2 L490.6,1281.5 L494.4,1279.2 L502.1,1275.6 L504.0,1274.6 L511.6,1269.4 L517.4,1265.6 L520.0,1265.3 L521.2,1264.8 L526.1,1260.1 L530.1,1256.8 L531.2,1255.8 L536.2,1253.2 L543.3,1252.4 L547.4,1248.6 L553.5,1239.3 L555.5,1237.6 L562.6,1232.8 L563.6,1232.0 L570.7,1227.7 L572.7,1226.2 L578.8,1219.2 L584.9,1213.1 L591.0,1207.5 L597.0,1199.5 L603.1,1191.7 L606.2,1189.1 L611.2,1184.8 L616.3,1173.0 L621.4,1158.3 L624.4,1151.0 L625.4,1147.0 L627.5,1140.7 L631.5,1130.2 L635.6,1122.0 L637.6,1119.3 L641.6,1123.2 L644.7,1127.8 L647.7,1130.5 L650.8,1134.2 L653.8,1138.4 L661.9,1143.1 L668.0,1150.1 L669.0,1151.3 L676.1,1157.8 L680.0,1158.0 L688.9,1150.8 L696.0,1149.5 L697.8,1149.7 L703.2,1151.2 L705.0,1150.0 L711.2,1146.0 L713.8,1143.3 L719.2,1140.0 L720.0,1140.0 L724.5,1136.0 L728.1,1132.7 L730.0,1130.0 L730.8,1129.9 L737.0,1128.0 L738.8,1127.9 L745.9,1129.9 L746.0,1130.0 L751.3,1131.6 L759.3,1132.1 L760.0,1132.0 L760.2,1133.7 L767.3,1130.3 L770.8,1128.6 L776.2,1127.1 L782.4,1127.2 L786.9,1126.3 L794.9,1121.4 L795.8,1120.4 L801.1,1117.2 L804.7,1117.8 L810.9,1118.8 L813.6,1117.6 L820.7,1113.4 L822.5,1112.9 L827.8,1110.4 L829.6,1110.5 L833.2,1111.3 L835.9,1111.1 L840.3,1107.7 L846.5,1101.9 L849.2,1101.0 L850.0,1099.2 L863.4,1102.2 L876.7,1098.0 L878.5,1097.5 L887.4,1096.4 L890.1,1094.8 L894.5,1091.3 L896.3,1090.6 L900.8,1088.6 L903.4,1089.1 L905.2,1090.2 L908.8,1091.0 L912.3,1088.8 L915.0,1086.1 L921.2,1083.5 L923.9,1084.1 L930.2,1087.2 L932.8,1087.5 L939.1,1082.0 L943.5,1076.4 L948.9,1073.2 L952.4,1074.8 L956.9,1077.9 L958.7,1078.5 L963.1,1083.3 L964.0,1083.0 L969.3,1078.5 L976.5,1075.6 L979.1,1075.9 L983.6,1078.4 L987.2,1080.3 L990.7,1079.6 L996.1,1075.8 L1001.4,1074.5 L1006.8,1075.9 L1009.4,1077.0 L1015.7,1066.7 L1019.2,1064.3 L1022.0,1058.3 L1024.6,1055.4 L1025.5,1055.0 L1028.9,1056.2 L1029.0,1061.6 L1037.8,1061.0 L1046.7,1057.1 L1047.0,1057.0 L1055.6,1054.8 L1062.7,1055.3 L1069.0,1054.5 L1075.2,1054.3 L1077.9,1054.6 L1084.1,1056.6 L1085.9,1057.1 L1091.3,1057.4 L1094.8,1056.3 L1100.2,1053.2 L1103.7,1051.9 L1109.0,1051.0 L1113.5,1049.3 L1125.1,1043.7 L1126.9,1043.3 L1135.8,1044.3 L1140.0,1044.0 L1142.9,1045.9 L1146.5,1046.6 L1153.6,1046.2 L1160.7,1048.7 L1162.5,1049.7 L1164.0,1051.0 L1167.0,1050.2 L1171.4,1047.4 L1178.5,1044.8 L1181.2,1044.3 L1189.0,1046.4 L1189.2,1046.6 L1191.0,1047.9 L1200.0,1046.1 L1204.6,1041.3 L1215.0,1045.3 L1225.2,1028.7 L1229.7,1031.2 L1241.6,1033.5 L1244.5,1031.2 L1257.9,1028.1 L1266.8,1043.1 L1269.8,1046.9 L1283.1,1049.7 L1296.5,1058.5 L1311.3,1043.4 L1326.2,1046.1 L1336.6,1039.6 L1348.4,1046.1 L1358.8,1040.9 L1367.7,1043.3 L1384.1,1024.9 L1385.5,1025.3 L1398.9,1027.3 L1407.8,1028.3 L1418.2,1033.0 L1431.6,1023.9 L1437.5,1023.8 L1444.9,1020.2 L1452.3,1007.5 L1458.3,1001.9 L1467.2,1004.5 L1468.7,1004.3 L1482.0,995.0 L1489.4,995.6 L1494.8,995.5 L1502.3,992.3 L1509.7,992.3 L1517.1,986.4 L1524.5,980.2 L1532.0,973.0 L1536.4,968.2 L1548.3,961.3 L1554.2,964.1 L1561.6,968.9 L1566.1,968.6 L1578.0,970.7 L1583.9,974.5 L1592.8,972.4 L1595.8,973.0 L1609.1,986.4 L1625.5,1001.1 L1628.4,1001.2 L1643.3,1002.5 L1646.2,1005.7 L1658.1,1005.0 L1665.5,998.3 L1678.9,997.9 L1687.8,1005.7 L1695.2,1010.7 L1702.7,1010.2 L1713.0,1013.6 L1717.5,1008.7 L1723.4,1005.3 L1735.3,1017.4 L1739.8,1016.1 L1745.7,1011.6 L1757.6,1015.1 L1759.0,1014.6" stroke="#00AF66"/>
<path d="M373.5,1374.0 L375.7,1372.6 L384.4,1365.7 L393.9,1358.2 L394.9,1357.3 L406.4,1346.5 L415.9,1336.7 L417.8,1334.7 L423.6,1329.1 L429.3,1323.8 L435.1,1318.3 L441.8,1312.7 L444.6,1310.7 L454.2,1303.3 L463.8,1294.9 L473.3,1289.1 L475.3,1288.1 L482.9,1284.9 L484.8,1283.7 L490.6,1280.0 L494.4,1277.7 L502.1,1274.2 L504.0,1273.1 L511.6,1267.9 L517.4,1264.1 L520.0,1263.9 L521.2,1263.3 L526.1,1258.8 L530.1,1255.5 L531.2,1254.6 L536.2,1252.1 L543.3,1252.1 L547.4,1249.0 L553.5,1241.0 L555.5,1239.7 L562.6,1235.8 L563.6,1235.0 L570.7,1230.7 L572.7,1229.2 L578.8,1222.2 L584.9,1216.1 L591.0,1210.5 L597.0,1202.5 L603.1,1194.6 L606.2,1192.0 L611.2,1187.5 L616.3,1175.6 L621.4,1160.5 L624.4,1152.5 L625.4,1148.3 L627.5,1141.5 L631.5,1130.2 L635.6,1121.0 L637.6,1117.9 L641.6,1121.2 L644.7,1125.8 L647.7,1128.5 L650.8,1132.2 L653.8,1136.4 L661.9,1141.1 L668.0,1148.1 L669.0,1149.3 L676.1,1155.8 L680.0,1156.0 L688.9,1148.9 L696.0,1147.5 L697.8,1147.7 L703.2,1149.3 L711.2,1145.0 L713.8,1142.6 L717.0,1151.0 L719.2,1149.7 L724.5,1150.0 L727.0,1150.0 L728.1,1150.0 L730.8,1148.6 L737.0,1144.1 L738.8,1142.6 L742.0,1141.0 L745.9,1139.7 L751.3,1140.3 L759.3,1139.2 L760.0,1139.0 L760.2,1138.9 L767.3,1135.5 L770.8,1133.7 L776.2,1132.1 L782.4,1132.1 L783.0,1132.0 L786.9,1122.1 L791.0,1110.0 L794.9,1108.0 L795.8,1107.1 L798.0,1106.0 L801.1,1104.5 L804.7,1105.6 L806.0,1106.0 L810.9,1110.7 L813.6,1111.7 L815.0,1112.0 L820.7,1107.5 L822.5,1106.7 L826.6,1104.0 L827.8,1103.7 L829.6,1104.1 L833.2,1105.7 L835.0,1106.0 L835.9,1106.2 L840.3,1103.9 L846.5,1099.7 L849.2,1099.5 L850.0,1098.0 L863.4,1099.7 L870.0,1097.0 L876.7,1093.8 L878.5,1093.0 L887.4,1090.4 L890.1,1088.4 L894.5,1084.2 L896.0,1083.3 L896.3,1083.2 L900.8,1082.0 L903.4,1082.8 L905.2,1084.2 L908.8,1085.6 L910.0,1085.0 L912.3,1086.9 L915.0,1084.2 L921.2,1081.6 L923.9,1082.2 L930.2,1085.3 L932.8,1085.6 L939.1,1080.1 L943.5,1074.5 L948.9,1071.3 L952.4,1072.9 L956.9,1076.1 L958.7,1076.6 L963.1,1081.5 L964.0,1081.1 L969.3,1076.7 L976.5,1073.8 L979.1,1074.1 L983.6,1076.5 L987.2,1078.5 L990.7,1077.7 L996.1,1074.0 L1001.4,1072.7 L1006.8,1074.1 L1009.4,1075.1 L1015.7,1064.8 L1019.2,1062.5 L1022.0,1056.5 L1024.6,1053.6 L1025.5,1053.2 L1028.9,1054.4 L1037.8,1054.7 L1046.7,1051.8 L1055.6,1049.4 L1062.7,1049.8 L1069.0,1048.9 L1075.2,1048.3 L1077.9,1048.4 L1084.1,1049.9 L1085.9,1050.4 L1091.3,1050.3 L1094.8,1049.0 L1100.2,1045.5 L1103.7,1043.9 L1113.5,1041.6 L1125.1,1037.5 L1126.9,1037.3 L1135.8,1039.4 L1142.9,1039.9 L1146.5,1038.4 L1153.6,1033.8 L1160.7,1032.1 L1162.5,1032.1 L1167.0,1033.2 L1171.4,1032.5 L1178.5,1033.4 L1181.2,1034.3 L1189.2,1040.4 L1191.0,1041.0 L1200.0,1035.4 L1204.6,1030.0 L1215.0,1032.9 L1225.2,1015.1 L1241.6,1022.6 L1257.9,1013.7 L1269.8,1030.1 L1283.1,1034.5 L1290.0,1048.0 L1296.5,1055.7 L1301.0,1053.5 L1311.3,1040.3 L1315.0,1040.0 L1326.2,1036.0 L1336.6,1033.0 L1348.4,1043.4 L1358.8,1040.5 L1367.7,1044.9 L1384.1,1030.1 L1398.9,1037.5 L1418.2,1046.4 L1430.0,1040.0 L1431.6,1039.5 L1444.9,1044.6 L1458.3,1022.1 L1468.7,1017.3 L1480.0,1005.7 L1482.0,1004.6 L1494.8,1007.2 L1502.3,1005.7 L1509.7,1007.5 L1524.5,999.3 L1536.4,991.2 L1546.8,989.4 L1548.3,988.3 L1561.6,993.1 L1578.0,987.2 L1583.9,987.9 L1592.8,989.2 L1606.2,996.8 L1609.1,998.6 L1625.5,1004.2 L1643.3,996.2 L1658.1,1004.3 L1673.0,999.8 L1678.9,998.5 L1695.2,1009.5 L1702.7,1008.9 L1713.0,1017.7 L1723.4,1011.6 L1735.3,1014.8 L1745.7,1003.9 L1757.6,1004.2" stroke="#0070E4"/>
<path d="M373.5,1373.5 L373.5,1373.5 L375.7,1372.2 L384.4,1365.5 L393.9,1358.2 L394.9,1357.3 L406.4,1346.8 L415.9,1337.2 L417.8,1335.3 L423.6,1329.8 L429.3,1324.6 L435.1,1319.3 L441.8,1313.8 L444.6,1311.9 L454.2,1304.7 L463.8,1296.5 L473.3,1291.0 L475.3,1290.0 L482.9,1287.0 L484.8,1285.9 L490.6,1282.3 L494.4,1280.1 L502.1,1276.7 L504.0,1275.7 L511.6,1270.7 L517.4,1267.0 L520.0,1266.9 L521.2,1266.3 L526.1,1261.8 L530.1,1258.5 L531.2,1257.6 L536.2,1255.1 L543.3,1255.1 L547.4,1252.0 L553.5,1244.0 L555.5,1242.7 L562.6,1238.8 L563.6,1238.0 L570.7,1233.7 L572.7,1232.2 L578.8,1225.2 L584.9,1219.1 L591.0,1213.5 L597.0,1205.5 L603.1,1197.7 L606.2,1195.1 L611.2,1190.8 L616.3,1179.0 L621.4,1164.1 L624.4,1156.1 L625.4,1151.9 L627.5,1145.2 L631.5,1134.0 L635.6,1124.8 L637.6,1121.8 L641.6,1124.9 L644.7,1128.9 L647.7,1130.9 L650.8,1134.0 L653.8,1137.6 L661.9,1141.1 L668.0,1148.1 L669.0,1149.3 L676.1,1155.8 L680.0,1156.0 L688.9,1148.8 L696.0,1147.5 L697.8,1147.7 L703.2,1149.2 L711.2,1145.0 L713.8,1142.6 L719.2,1139.9 L724.5,1140.8 L728.1,1141.2 L730.8,1140.2 L737.0,1136.6 L738.8,1135.3 L745.9,1132.8 L751.3,1133.2 L759.3,1132.0 L760.2,1131.7 L767.3,1128.3 L770.8,1126.6 L776.2,1125.1 L782.4,1125.2 L786.9,1124.3 L794.9,1119.4 L795.8,1118.4 L801.1,1115.2 L804.7,1115.8 L810.9,1116.8 L813.6,1115.6 L820.7,1111.4 L822.5,1110.9 L827.8,1108.4 L829.6,1108.5 L833.2,1109.3 L835.9,1109.1 L840.3,1105.7 L846.5,1099.9 L849.2,1099.0 L850.0,1097.2 L863.4,1100.2 L876.7,1096.0 L878.5,1095.5 L887.4,1094.4 L890.1,1092.8 L894.5,1089.3 L896.3,1088.6 L900.8,1086.6 L903.4,1087.1 L905.2,1088.2 L908.8,1089.0 L912.3,1086.8 L915.0,1084.1 L921.2,1081.5 L923.9,1082.1 L930.2,1085.2 L932.8,1085.5 L939.1,1080.0 L943.5,1074.4 L948.9,1071.2 L952.4,1072.8 L956.9,1075.9 L958.7,1076.5 L963.1,1081.3 L964.0,1081.0 L969.3,1076.5 L976.5,1073.6 L979.1,1073.9 L983.6,1076.4 L987.2,1078.3 L990.7,1077.6 L996.1,1073.8 L1001.4,1072.5 L1006.8,1073.9 L1009.4,1075.0 L1015.7,1064.7 L1019.2,1062.3 L1022.0,1056.3 L1024.6,1053.4 L1025.5,1053.0 L1028.9,1054.2 L1037.8,1054.5 L1046.7,1051.7 L1055.6,1049.2 L1062.7,1049.6 L1069.0,1048.7 L1075.2,1048.1 L1077.9,1048.2 L1084.1,1049.8 L1085.9,1050.2 L1091.3,1050.1 L1094.8,1048.8 L1100.2,1045.3 L1103.7,1043.7 L1113.5,1041.4 L1125.1,1037.3 L1126.9,1037.1 L1135.8,1039.2 L1142.9,1039.7 L1146.5,1038.2 L1153.6,1033.6 L1160.7,1031.8 L1162.5,1031.8 L1167.0,1033.0 L1171.4,1032.3 L1178.5,1033.2 L1181.2,1034.1 L1189.2,1040.2 L1191.0,1040.7 L1200.0,1035.2 L1204.6,1029.8 L1215.0,1032.7 L1225.2,1014.9 L1241.6,1022.3 L1257.9,1013.4 L1269.8,1029.8 L1283.1,1034.2 L1296.5,1044.6 L1311.3,1031.2 L1326.2,1035.7 L1336.6,1032.7 L1348.4,1043.1 L1358.8,1040.2 L1367.7,1044.6 L1384.1,1029.8 L1398.9,1037.2 L1418.2,1046.1 L1431.6,1037.2 L1444.9,1037.2 L1458.3,1020.9 L1468.7,1020.9 L1482.0,1013.4 L1494.8,1016.1 L1509.7,1013.1 L1524.5,998.3 L1536.4,984.9 L1548.3,977.5 L1561.6,983.4 L1578.0,979.0 L1592.8,982.0 L1609.1,992.3 L1625.5,998.3 L1643.3,989.4 L1658.1,996.8 L1678.9,989.4 L1695.2,998.3 L1702.7,996.8 L1713.0,1004.2 L1723.4,996.8 L1735.3,1007.2 L1745.7,1002.7 L1757.6,1010.2" stroke="#000"/>
</g>
<line x1="656.6" y1="173.6" x2="656.6" y2="1463.0" stroke="#000" stroke-width="10.6" stroke-dasharray="25.8 17.94"/>
<text transform="matrix(0.40000,0,0,0.41429,220.10,1428.90)" font-family="'Liberation Sans', Arial, sans-serif" font-style="normal" font-size="200" fill="#000">0.2</text>
<text transform="matrix(0.40000,0,0,0.41429,218.50,1305.40)" font-family="'Liberation Sans', Arial, sans-serif" font-style="normal" font-size="200" fill="#000">0.4</text>
<text transform="matrix(0.40000,0,0,0.41429,219.70,1181.90)" font-family="'Liberation Sans', Arial, sans-serif" font-style="normal" font-size="200" fill="#000">0.6</text>
<text transform="matrix(0.40000,0,0,0.41429,219.70,1058.40)" font-family="'Liberation Sans', Arial, sans-serif" font-style="normal" font-size="200" fill="#000">0.8</text>
<text transform="matrix(0.40000,0,0,0.41429,219.30,934.90)" font-family="'Liberation Sans', Arial, sans-serif" font-style="normal" font-size="200" fill="#000">1.0</text>
<text transform="matrix(0.40000,0,0,0.41429,220.10,811.40)" font-family="'Liberation Sans', Arial, sans-serif" font-style="normal" font-size="200" fill="#000">1.2</text>
<text transform="matrix(0.40000,0,0,0.41429,218.50,687.90)" font-family="'Liberation Sans', Arial, sans-serif" font-style="normal" font-size="200" fill="#000">1.4</text>
<text transform="matrix(0.40000,0,0,0.41429,219.70,564.40)" font-family="'Liberation Sans', Arial, sans-serif" font-style="normal" font-size="200" fill="#000">1.6</text>
<text transform="matrix(0.40000,0,0,0.41429,219.70,440.90)" font-family="'Liberation Sans', Arial, sans-serif" font-style="normal" font-size="200" fill="#000">1.8</text>
<text transform="matrix(0.40000,0,0,0.41429,219.30,317.40)" font-family="'Liberation Sans', Arial, sans-serif" font-style="normal" font-size="200" fill="#000">2.0</text>
<text transform="matrix(0.40000,0,0,0.41429,220.10,193.90)" font-family="'Liberation Sans', Arial, sans-serif" font-style="normal" font-size="200" fill="#000">2.2</text>
<text transform="matrix(0.39057,0,0,0.41620,330.45,1573.17)" font-family="'Liberation Sans', Arial, sans-serif" font-style="normal" font-size="200" fill="#000">50</text>
<text transform="matrix(0.39057,0,0,0.41620,564.71,1573.17)" font-family="'Liberation Sans', Arial, sans-serif" font-style="normal" font-size="200" fill="#000">100</text>
<text transform="matrix(0.39057,0,0,0.41620,822.01,1573.17)" font-family="'Liberation Sans', Arial, sans-serif" font-style="normal" font-size="200" fill="#000">150</text>
<text transform="matrix(0.39057,0,0,0.41620,1080.28,1573.17)" font-family="'Liberation Sans', Arial, sans-serif" font-style="normal" font-size="200" fill="#000">200</text>
<text transform="matrix(0.39057,0,0,0.41620,1337.58,1573.17)" font-family="'Liberation Sans', Arial, sans-serif" font-style="normal" font-size="200" fill="#000">250</text>
<text transform="matrix(0.39057,0,0,0.41620,1595.28,1573.17)" font-family="'Liberation Sans', Arial, sans-serif" font-style="normal" font-size="200" fill="#000">300</text>
<text transform="matrix(0.39057,0,0,0.41620,1852.58,1573.17)" font-family="'Liberation Sans', Arial, sans-serif" font-style="normal" font-size="200" fill="#000">350</text>
<rect x="395.4" y="184.5" width="310.6" height="402" fill="#fff" stroke="#000" stroke-width="2.8"/>
<line x1="405.5" y1="239.4" x2="582.4" y2="239.4" stroke="#000" stroke-width="13" stroke-linecap="round"/>
<text transform="matrix(0.39457,0,0,0.41957,604.64,267.00)" font-family="'Liberation Sans', Arial, sans-serif" font-style="normal" font-size="200" fill="#000">0T</text>
<line x1="405.5" y1="337.1" x2="582.4" y2="337.1" stroke="#0070E4" stroke-width="13" stroke-linecap="round"/>
<text transform="matrix(0.39457,0,0,0.41957,604.64,363.80)" font-family="'Liberation Sans', Arial, sans-serif" font-style="normal" font-size="200" fill="#000">1T</text>
<line x1="405.5" y1="434.8" x2="582.4" y2="434.8" stroke="#00AF66" stroke-width="13" stroke-linecap="round"/>
<text transform="matrix(0.39457,0,0,0.41957,604.64,461.80)" font-family="'Liberation Sans', Arial, sans-serif" font-style="normal" font-size="200" fill="#000">3T</text>
<line x1="405.5" y1="532.4" x2="582.4" y2="532.4" stroke="#FF3F3F" stroke-width="13" stroke-linecap="round"/>
<text transform="matrix(0.39457,0,0,0.41957,604.64,559.00)" font-family="'Liberation Sans', Arial, sans-serif" font-style="normal" font-size="200" fill="#000">5T</text>
<rect x="868" y="124" width="621" height="108" fill="#fff" stroke="#000" stroke-width="4"/>
<text transform="matrix(0.40245,0,0,0.41739,877.56,205.60)" font-family="'Liberation Sans', Arial, sans-serif" font-style="normal" font-size="200" fill="#000">LSMO/STO(100)</text>
<rect x="872" y="854" width="625" height="108" fill="#fff" stroke="#000" stroke-width="4"/>
<text transform="matrix(0.40291,0,0,0.41739,880.45,935.60)" font-family="'Liberation Sans', Arial, sans-serif" font-style="normal" font-size="200" fill="#000">LMCO/STO(100)</text>
<line x1="1866.2" y1="718.8" x2="1866.2" y2="480" stroke="#000" stroke-width="10"/>
<polygon points="1866.2,420.3 1884,490.3 1848.4,490.3" fill="#000"/>
<text transform="matrix(0.47014,0,0,0.49203,1822.24,383.00)" font-family="'Liberation Sans', Arial, sans-serif" font-style="normal" font-size="200" fill="#FF3F3F">5T</text>
<text transform="matrix(0.46652,0,0,0.49130,1817.17,851.80)" font-family="'Liberation Sans', Arial, sans-serif" font-style="normal" font-size="200" fill="#000">0T</text>
<text transform="matrix(0.47701,0,0,0.48986,784.71,1714.70)" font-family="'Liberation Sans', Arial, sans-serif" font-style="normal" font-size="200" fill="#000">Temperature <tspan font-style="italic">T</tspan> (K)</text>
<text transform="matrix(0,-0.47418,0.49348,0,139.10,1457.17)" font-family="'Liberation Sans', Arial, sans-serif" font-style="normal" font-size="200" fill="#000">Thermal conductivity</text>
<text transform="matrix(0,-0.61319,0.51758,0,139.00,550.49)" font-family="'Liberation Serif', serif" font-style="italic" font-size="200" fill="#000">κ</text>
<text transform="matrix(0,-0.45995,0.49130,0,138.90,477.22)" font-family="'Liberation Sans', Arial, sans-serif" font-style="normal" font-size="200" fill="#000">(Wm</text>
<text transform="matrix(0,-0.28269,0.34058,0,100.70,281.63)" font-family="'Liberation Sans', Arial, sans-serif" font-style="normal" font-size="200" fill="#000">−1</text>
<text transform="matrix(0,-0.48435,0.49275,0,139.10,207.45)" font-family="'Liberation Sans', Arial, sans-serif" font-style="normal" font-size="200" fill="#000">K</text>
<text transform="matrix(0,-0.27837,0.34058,0,100.70,143.78)" font-family="'Liberation Sans', Arial, sans-serif" font-style="normal" font-size="200" fill="#000">−1</text>
<text transform="matrix(0,-0.35769,0.47005,0,135.06,69.42)" font-family="'Liberation Sans', Arial, sans-serif" font-style="normal" font-size="200" fill="#000">)</text>
</svg>
</body></html>
